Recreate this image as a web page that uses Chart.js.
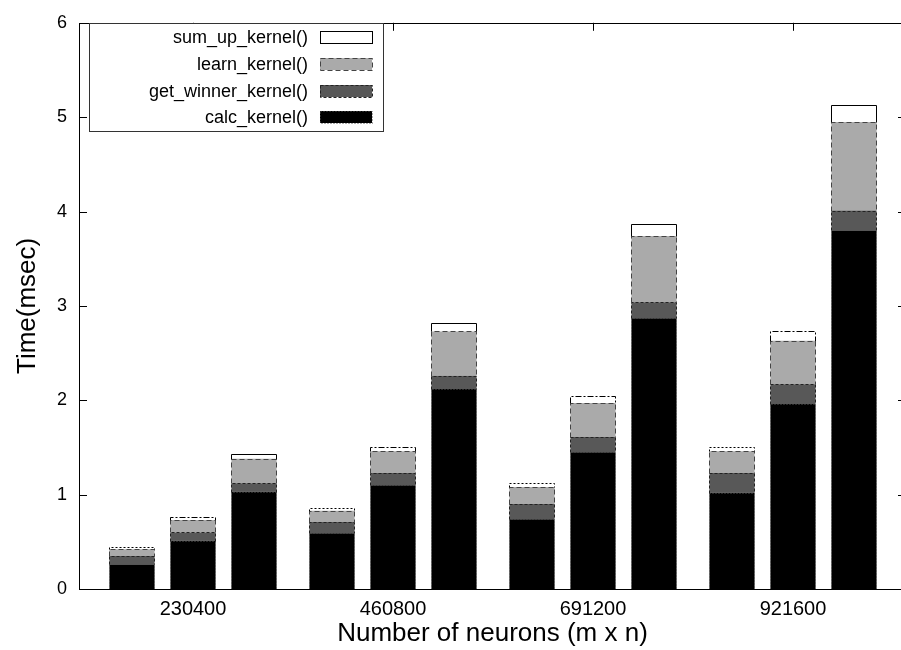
<html>
<head>
<title>Kernel timing</title>
<style>
  html, body { margin: 0; padding: 0; overflow: hidden; background: #fff; }
</style>
</head>

<body>
<script src="https://cdn.jsdelivr.net/npm/chart.js@4.4.0/dist/chart.umd.min.js"></script>

<canvas id="myChart" width="910" height="650"></canvas>

<script type="text/javascript">
// group labels on the x axis (number of neurons)
var groupLabels = ["230400", "460800", "691200", "921600"];

// segment heights in msec, one row per group, three bars per group
var calcKernel      = [[0.26, 0.51, 1.03], [0.59, 1.10, 2.12], [0.74, 1.45, 2.87], [1.02, 1.96, 3.80]];
var getWinnerKernel = [[0.09, 0.09, 0.09], [0.12, 0.13, 0.14], [0.16, 0.16, 0.17], [0.21, 0.21, 0.21]];
var learnKernel     = [[0.07, 0.13, 0.26], [0.12, 0.23, 0.47], [0.18, 0.36, 0.70], [0.23, 0.46, 0.94]];
var sumUpKernel     = [[0.02, 0.03, 0.05], [0.03, 0.05, 0.09], [0.04, 0.07, 0.13], [0.05, 0.10, 0.18]];

var yTicks = [0, 1, 2, 3, 4, 5, 6];

// outline dash per bar column (1st, 2nd, 3rd bar of a group)
var kernels = [
  {label: "calc_kernel()",       data: calcKernel,      fill: "#000000", border: "#555555", dash: [[1, 2], [1, 2], [1, 2]]},
  {label: "get_winner_kernel()", data: getWinnerKernel, fill: "#585858", border: "#222222", dash: [[3, 2], [3, 2], [3, 2]]},
  {label: "learn_kernel()",      data: learnKernel,     fill: "#aaaaaa", border: "#444444", dash: [[5, 3], [5, 3], [5, 3]]},
  {label: "sum_up_kernel()",     data: sumUpKernel,     fill: "#ffffff", border: "#000000", dash: [[2, 2], [6, 2, 2, 2], []]}
];

Chart.defaults.font.family = "'Liberation Sans', Arial, sans-serif";
Chart.defaults.color = "#000";

var datasets = [];
for (var c = 0; c < 3; c++) {
  kernels.forEach(function (k) {
    datasets.push({
      label: k.label,
      stack: "col" + c,
      backgroundColor: k.fill,
      borderWidth: 0,
      outlineColor: k.border,
      outlineDash: k.dash[c],
      categoryPercentage: 0.915,
      barPercentage: 0.74,
      data: k.data.map(function (row, i) { return {x: i, y: row[c]}; })
    });
  });
}

var framePlugin = {
  id: "frame",
  afterDatasetsDraw: function (chart) {
    var ctx = chart.ctx, a = chart.chartArea;
    var xs = chart.scales.x, ys = chart.scales.y;
    ctx.save();
    ctx.lineWidth = 1;
    // dashed outlines of the bar segments
    chart.data.datasets.forEach(function (ds, di) {
      var meta = chart.getDatasetMeta(di);
      ctx.strokeStyle = ds.outlineColor;
      ctx.setLineDash(ds.outlineDash);
      meta.data.forEach(function (bar) {
        var p = bar.getProps(["x", "y", "base", "width"], true);
        var l = Math.round(p.x - p.width / 2) + 0.5;
        var r = Math.round(p.x + p.width / 2) - 0.5;
        var t = Math.round(p.y) + 0.5;
        var b = Math.round(p.base) + 0.5;
        ctx.beginPath();
        ctx.moveTo(l, b); ctx.lineTo(l, t); ctx.lineTo(r, t); ctx.lineTo(r, b);
        ctx.stroke();
      });
    });
    ctx.setLineDash([]);
    // frame with inward ticks, gnuplot style
    ctx.strokeStyle = "#000";
    ctx.beginPath();
    yTicks.forEach(function (v) {
      var py = Math.round(ys.getPixelForValue(v)) + 0.5;
      ctx.moveTo(a.left, py); ctx.lineTo(a.left + 8, py);
      ctx.moveTo(a.right, py); ctx.lineTo(a.right - 8, py);
    });
    groupLabels.forEach(function (g, i) {
      var px = Math.round(xs.getPixelForValue(i)) + 0.5;
      ctx.moveTo(px, a.top); ctx.lineTo(px, a.top + 8);
    });
    ctx.stroke();
    ctx.strokeRect(Math.round(a.left) + 0.5, Math.round(a.top) + 0.5,
                   Math.round(a.right - a.left), Math.round(a.bottom - a.top));
    ctx.restore();
  },
  afterDraw: function (chart) {
    var ctx = chart.ctx;
    var bx = 89, by = 23, bw = 294, bh = 108;
    ctx.save();
    ctx.fillStyle = "#fff";
    ctx.fillRect(bx, by, bw, bh);
    ctx.strokeStyle = "#333";
    ctx.lineWidth = 1;
    ctx.strokeRect(bx + 0.5, by + 0.5, bw, bh);
    ctx.font = "18px 'Liberation Sans', Arial, sans-serif";
    ctx.textAlign = "right";
    ctx.textBaseline = "middle";
    var order = kernels.slice().reverse();
    order.forEach(function (k, i) {
      var ry = 37 + i * 26.8;
      ctx.fillStyle = "#000";
      ctx.fillText(k.label, 308, ry + 1);
      ctx.fillStyle = k.fill;
      ctx.fillRect(320, Math.round(ry) - 6, 52, 12);
      ctx.strokeStyle = k.border;
      ctx.setLineDash(k.dash[2].length ? k.dash[2] : []);
      if (k.label === "calc_kernel()") ctx.setLineDash([1, 2]);
      ctx.strokeRect(320.5, Math.round(ry) - 5.5, 52, 12);
      ctx.setLineDash([]);
    });
    ctx.restore();
  }
};

var ctx = document.getElementById("myChart").getContext("2d");

var myChart = new Chart(ctx, {
  type: "bar",
  data: {datasets: datasets},
  options: {
    responsive: false,
    animation: false,
    layout: {padding: {top: 15, right: 4, left: 0, bottom: 0}},
    plugins: {
      legend: {display: false},
      tooltip: {enabled: false}
    },
    scales: {
      x: {
        type: "linear",
        stacked: true,
        offset: false,
        min: -0.57,
        max: 3.565,
        grid: {display: false, drawTicks: false},
        border: {display: false},
        afterBuildTicks: function (scale) {
          scale.ticks = groupLabels.map(function (g, i) { return {value: i}; });
        },
        afterFit: function (scale) { scale.height = 61; },
        ticks: {
          padding: 8,
          maxRotation: 0,
          font: {size: 20},
          callback: function (v) { return groupLabels[v]; }
        },
        title: {
          display: true,
          text: "Number of neurons (m x n)",
          font: {size: 26},
          padding: {top: 0, bottom: 1}
        }
      },
      y: {
        stacked: true,
        min: 0,
        max: 6,
        grid: {display: false, drawTicks: false},
        border: {display: false},
        afterFit: function (scale) { scale.width = 79; },
        afterBuildTicks: function (scale) {
          scale.ticks = yTicks.map(function (v) { return {value: v}; });
        },
        ticks: {
          padding: 12,
          font: {size: 18}
        },
        title: {
          display: true,
          text: "Time(msec)",
          font: {size: 26},
          padding: {top: 12, bottom: 0}
        }
      }
    }
  },
  plugins: [framePlugin]
});
</script>
</body>
</html>
